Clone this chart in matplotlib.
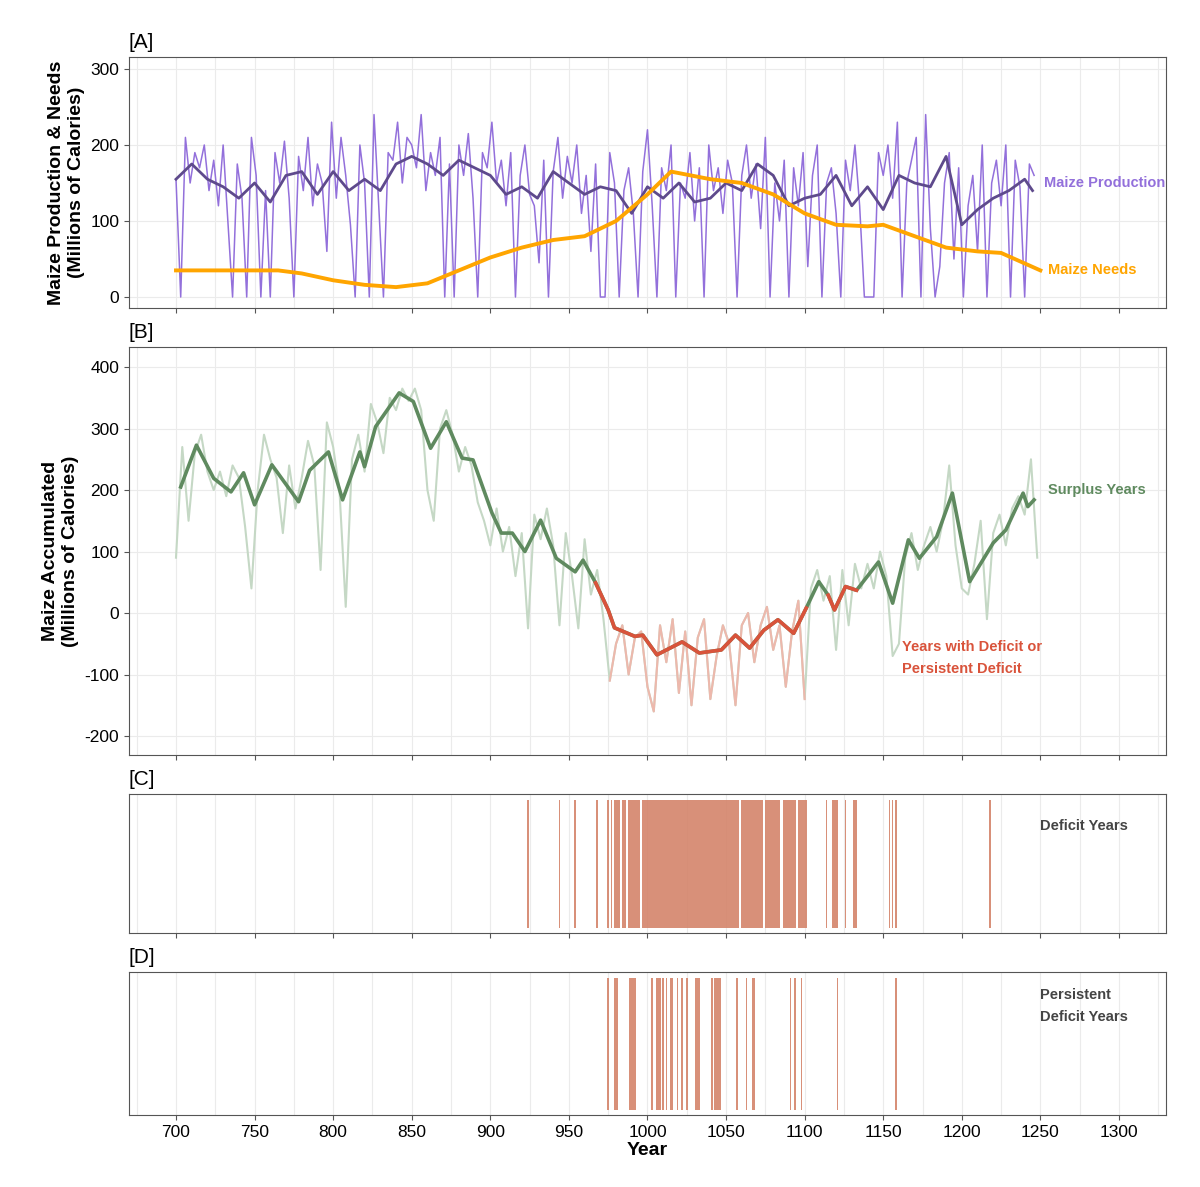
import numpy as np
import matplotlib
matplotlib.use("Agg")
import matplotlib.pyplot as plt

plt.rcParams["font.family"] = ["Liberation Sans", "DejaVu Sans"]
plt.rcParams["axes.unicode_minus"] = False

# ── Data ─────────────────────────────────────────────────────────────────────

# raw maize production, one value every 3 years from 700
prod_raw = [155, 0, 210, 150, 190, 170, 200, 140, 180, 120,
            200, 100, 0, 175, 130, 0, 210, 160, 0, 140,
            0, 190, 150, 205, 130, 0, 185, 140, 210, 120,
            175, 150, 60, 230, 130, 210, 160, 95, 0, 200,
            150, 0, 240, 120, 0, 190, 180, 230, 150, 210,
            200, 170, 240, 140, 190, 160, 210, 0, 175, 0,
            200, 160, 215, 130, 0, 190, 170, 230, 150, 180,
            120, 190, 0, 160, 200, 135, 120, 45, 180, 0,
            165, 210, 130, 185, 150, 200, 110, 160, 60, 175,
            0, 0, 190, 150, 0, 140, 170, 110, 0, 165,
            220, 120, 0, 170, 140, 200, 0, 150, 130, 190,
            100, 170, 0, 200, 140, 170, 110, 180, 150, 0,
            160, 200, 130, 175, 90, 210, 0, 150, 100, 180,
            0, 170, 120, 190, 40, 160, 200, 0, 150, 170,
            110, 0, 180, 140, 200, 120, 0, 0, 0, 190,
            160, 200, 130, 230, 0, 150, 180, 210, 0, 240,
            90, 0, 40, 150, 190, 50, 170, 0, 120, 160,
            60, 200, 0, 150, 180, 120, 200, 0, 180, 145,
            0, 175, 160]

smooth_years = [700, 710, 720, 730, 740, 750, 760, 770, 780, 790, 800, 810, 820, 830,
                840, 850, 860, 870, 880, 890, 900, 910, 920, 930, 940, 950, 960, 970,
                980, 990, 1000, 1010, 1020, 1030, 1040, 1050, 1060, 1070, 1080, 1090,
                1100, 1110, 1120, 1130, 1140, 1150, 1160, 1170, 1180, 1190, 1200, 1210,
                1220, 1230, 1240, 1245]
prod_smooth = [155, 175, 155, 145, 130, 150, 125, 160, 165, 135, 165, 140, 155, 140,
               175, 185, 175, 160, 180, 170, 160, 135, 145, 130, 165, 150, 135, 145,
               140, 110, 145, 130, 150, 125, 130, 150, 140, 175, 160, 120,
               130, 135, 160, 120, 145, 115, 160, 150, 145, 185, 95, 115,
               130, 140, 155, 140]

need_years = [700, 765, 780, 800, 820, 840, 860, 880, 900, 920, 940, 960, 980, 1000,
              1015, 1040, 1060, 1080, 1100, 1120, 1140, 1150, 1170, 1190, 1210, 1225, 1250]
needs = [35, 35, 31, 22, 16, 13, 18, 35, 52, 65, 75, 80, 100, 135,
         165, 155, 150, 135, 110, 95, 93, 95, 80, 65, 60, 58, 35]

# accumulated maize, raw, one value every 4 years from 700
acc_raw = [90, 270, 150, 260, 290, 230, 200, 230, 190, 240,
           220, 140, 40, 200, 290, 250, 220, 130, 240, 170,
           220, 280, 240, 70, 310, 270, 200, 10, 250, 290,
           230, 340, 310, 260, 350, 330, 365, 345, 365, 330,
           200, 150, 300, 330, 290, 230, 270, 240, 180, 150,
           110, 170, 100, 140, 60, 130, -25, 160, 120, 170,
           110, -20, 130, 60, -25, 120, 30, 70, -10, -110,
           -50, -20, -100, -40, -30, -120, -160, -20, -80, -10,
           -130, -30, -150, -40, -10, -140, -70, -20, -50, -150,
           -20, 0, -80, -20, 10, -60, -20, -120, -30, 20,
           -140, 40, 70, 20, 60, -60, 70, -20, 80, 40,
           80, 40, 100, 60, -70, -50, 90, 130, 70, 110,
           140, 100, 150, 240, 110, 40, 30, 80, 150, -10,
           130, 160, 110, 170, 190, 160, 250, 90]

acc_years = [703, 713, 724, 735, 743, 750, 761, 778, 785, 797, 806, 817, 820, 827,
             842, 851, 862, 872, 882, 889, 901, 907, 914, 922, 932, 942, 954, 959,
             967, 975, 979, 992, 997, 1006, 1022, 1033, 1047, 1056, 1065, 1074,
             1083, 1093, 1101, 1109, 1115, 1119, 1126, 1133, 1147, 1156, 1166,
             1173, 1184, 1194, 1205, 1220, 1228, 1239, 1242, 1246]
acc_smooth = [205, 273, 219, 197, 228, 176, 241, 181, 232, 262, 184, 262, 238, 303,
              358, 344, 268, 311, 252, 249, 163, 130, 130, 100, 151, 89, 67, 86,
              49, 5, -24, -38, -36, -68, -47, -65, -60, -36, -57, -28,
              -11, -33, 8, 51, 29, 5, 43, 37, 83, 16, 119,
              89, 124, 195, 51, 114, 135, 195, 173, 184]

# deficit years (start, end) and persistent deficit years
deficit_spans = [(924, 924), (944, 944), (954, 954), (968, 968), (975, 975), (977, 977),
                 (979, 982), (984, 986), (988, 995), (997, 1058), (1060, 1073),
                 (1075, 1084), (1087, 1092), (1093, 1094), (1096, 1100), (1101, 1101),
                 (1114, 1114), (1118, 1118), (1119, 1121), (1126, 1126), (1131, 1133),
                 (1154, 1154), (1156, 1156), (1158, 1158), (1218, 1218)]
persistent_spans = [(975, 975), (979, 981), (989, 992), (1003, 1003), (1006, 1008),
                    (1010, 1010), (1012, 1012), (1015, 1016), (1019, 1019), (1022, 1022),
                    (1025, 1025), (1031, 1033), (1041, 1041), (1043, 1045), (1046, 1046),
                    (1057, 1057), (1063, 1063), (1067, 1068), (1091, 1091), (1094, 1094),
                    (1098, 1098), (1121, 1121), (1158, 1158)]

# ── Helpers ──────────────────────────────────────────────────────────────────

GREEN, GREEN_L = "#5F8A5F", "#C5D8C5"
RED, RED_L = "#D9533B", "#EDB8AC"
BAR = "#D4846B"

def in_deficit(years):
    years = np.asarray(years)
    m = np.zeros(len(years), dtype=bool)
    for a, b in deficit_spans:
        m |= (years >= a - 1) & (years <= b + 1)
    return m

def two_tone(ax, x, y, c_ok, c_bad, **kw):
    x = np.asarray(x, float); y = np.asarray(y, float)
    bad = in_deficit(x)
    ax.plot(x, y, color=c_ok, **kw)
    ax.plot(x, np.where(bad, y, np.nan), color=c_bad, **kw)

def style(ax):
    ax.set_xlim(670.1, 1329.8)
    ax.set_xticks(np.arange(700, 1301, 50))
    ax.set_xticks(np.arange(675, 1330, 50), minor=True)
    ax.grid(True, which="both", color="#EBEBEB", linewidth=0.8)
    ax.set_axisbelow(True)
    for s in ax.spines.values():
        s.set_color("#555555")
    ax.tick_params(which="minor", length=0)
    ax.tick_params(axis="both", labelsize=12.5, color="#555555")

def label(fig, ax, txt):
    p = ax.get_position()
    fig.text(p.x0, p.y1 + 0.004, txt, fontsize=15, ha="left", va="bottom")

fig = plt.figure(figsize=(12, 11.87), dpi=100)
axA = fig.add_axes([0.1075, 0.7405, 0.864, 0.2115])
axB = fig.add_axes([0.1075, 0.3639, 0.864, 0.3437])
axC = fig.add_axes([0.1075, 0.2140, 0.864, 0.1171])
axD = fig.add_axes([0.1075, 0.0607, 0.864, 0.1205])

# ── Panel A ──────────────────────────────────────────────────────────────────
style(axA)
prod_years = np.arange(700, 700 + 3 * len(prod_raw), 3)
axA.plot(prod_years, prod_raw, color="#9370DB", linewidth=1.1)
axA.plot(smooth_years, prod_smooth, color="#5E4A8C", linewidth=2)
axA.plot(need_years, needs, color="#FFA500", linewidth=2.8)
axA.set_ylim(-14.5, 315.8)
axA.set_yticks([0, 100, 200, 300])
axA.tick_params(axis="x", labelbottom=False)
axA.set_ylabel("Maize Production & Needs\n(Millions of Calories)", fontsize=14, fontweight="bold")
axA.text(1252, 150, "Maize Production", color="#9370DB", fontsize=10.5, fontweight="bold", va="center")
axA.text(1255, 35, "Maize Needs", color="#FFA500", fontsize=10.5, fontweight="bold", va="center")

# ── Panel B ──────────────────────────────────────────────────────────────────
style(axB)
acc_raw_years = np.arange(700, 700 + 4 * len(acc_raw), 4)
two_tone(axB, acc_raw_years, acc_raw, GREEN_L, RED_L, linewidth=1.5)
two_tone(axB, acc_years, acc_smooth, GREEN, RED, linewidth=2.6)
axB.set_ylim(-231, 432.5)
axB.set_yticks([-200, -100, 0, 100, 200, 300, 400])
axB.tick_params(axis="x", labelbottom=False)
axB.set_ylabel("Maize Accumulated\n(Millions of Calories)", fontsize=14, fontweight="bold")
axB.text(1255, 200, "Surplus Years", color=GREEN, fontsize=10.5, fontweight="bold", va="center")
axB.text(1162, -73, "Years with Deficit or\nPersistent Deficit", color=RED, fontsize=10.5,
         fontweight="bold", va="center", linespacing=1.7)

# ── Panels C and D ───────────────────────────────────────────────────────────
for ax, spans, txt, ty in [(axC, deficit_spans, "Deficit Years", 0.77),
                           (axD, persistent_spans, "Persistent\nDeficit Years", 0.76)]:
    style(ax)
    ax.set_ylim(0, 1)
    ax.set_yticks([])
    for a, b in spans:
        ax.axvspan(a - 0.5, b + 0.5, ymin=0.036, ymax=0.957, color=BAR, alpha=0.9, linewidth=0)
    ax.text(1250, ty, txt, color="#444444", fontsize=10.5,
            fontweight="bold", va="center", linespacing=1.7)
axC.tick_params(axis="x", labelbottom=False)
axD.set_xlabel("Year", fontsize=14, fontweight="bold", labelpad=2)

for ax, t in zip([axA, axB, axC, axD], ["[A]", "[B]", "[C]", "[D]"]):
    label(fig, ax, t)

fig.savefig("out.png", dpi=100, facecolor="white")
